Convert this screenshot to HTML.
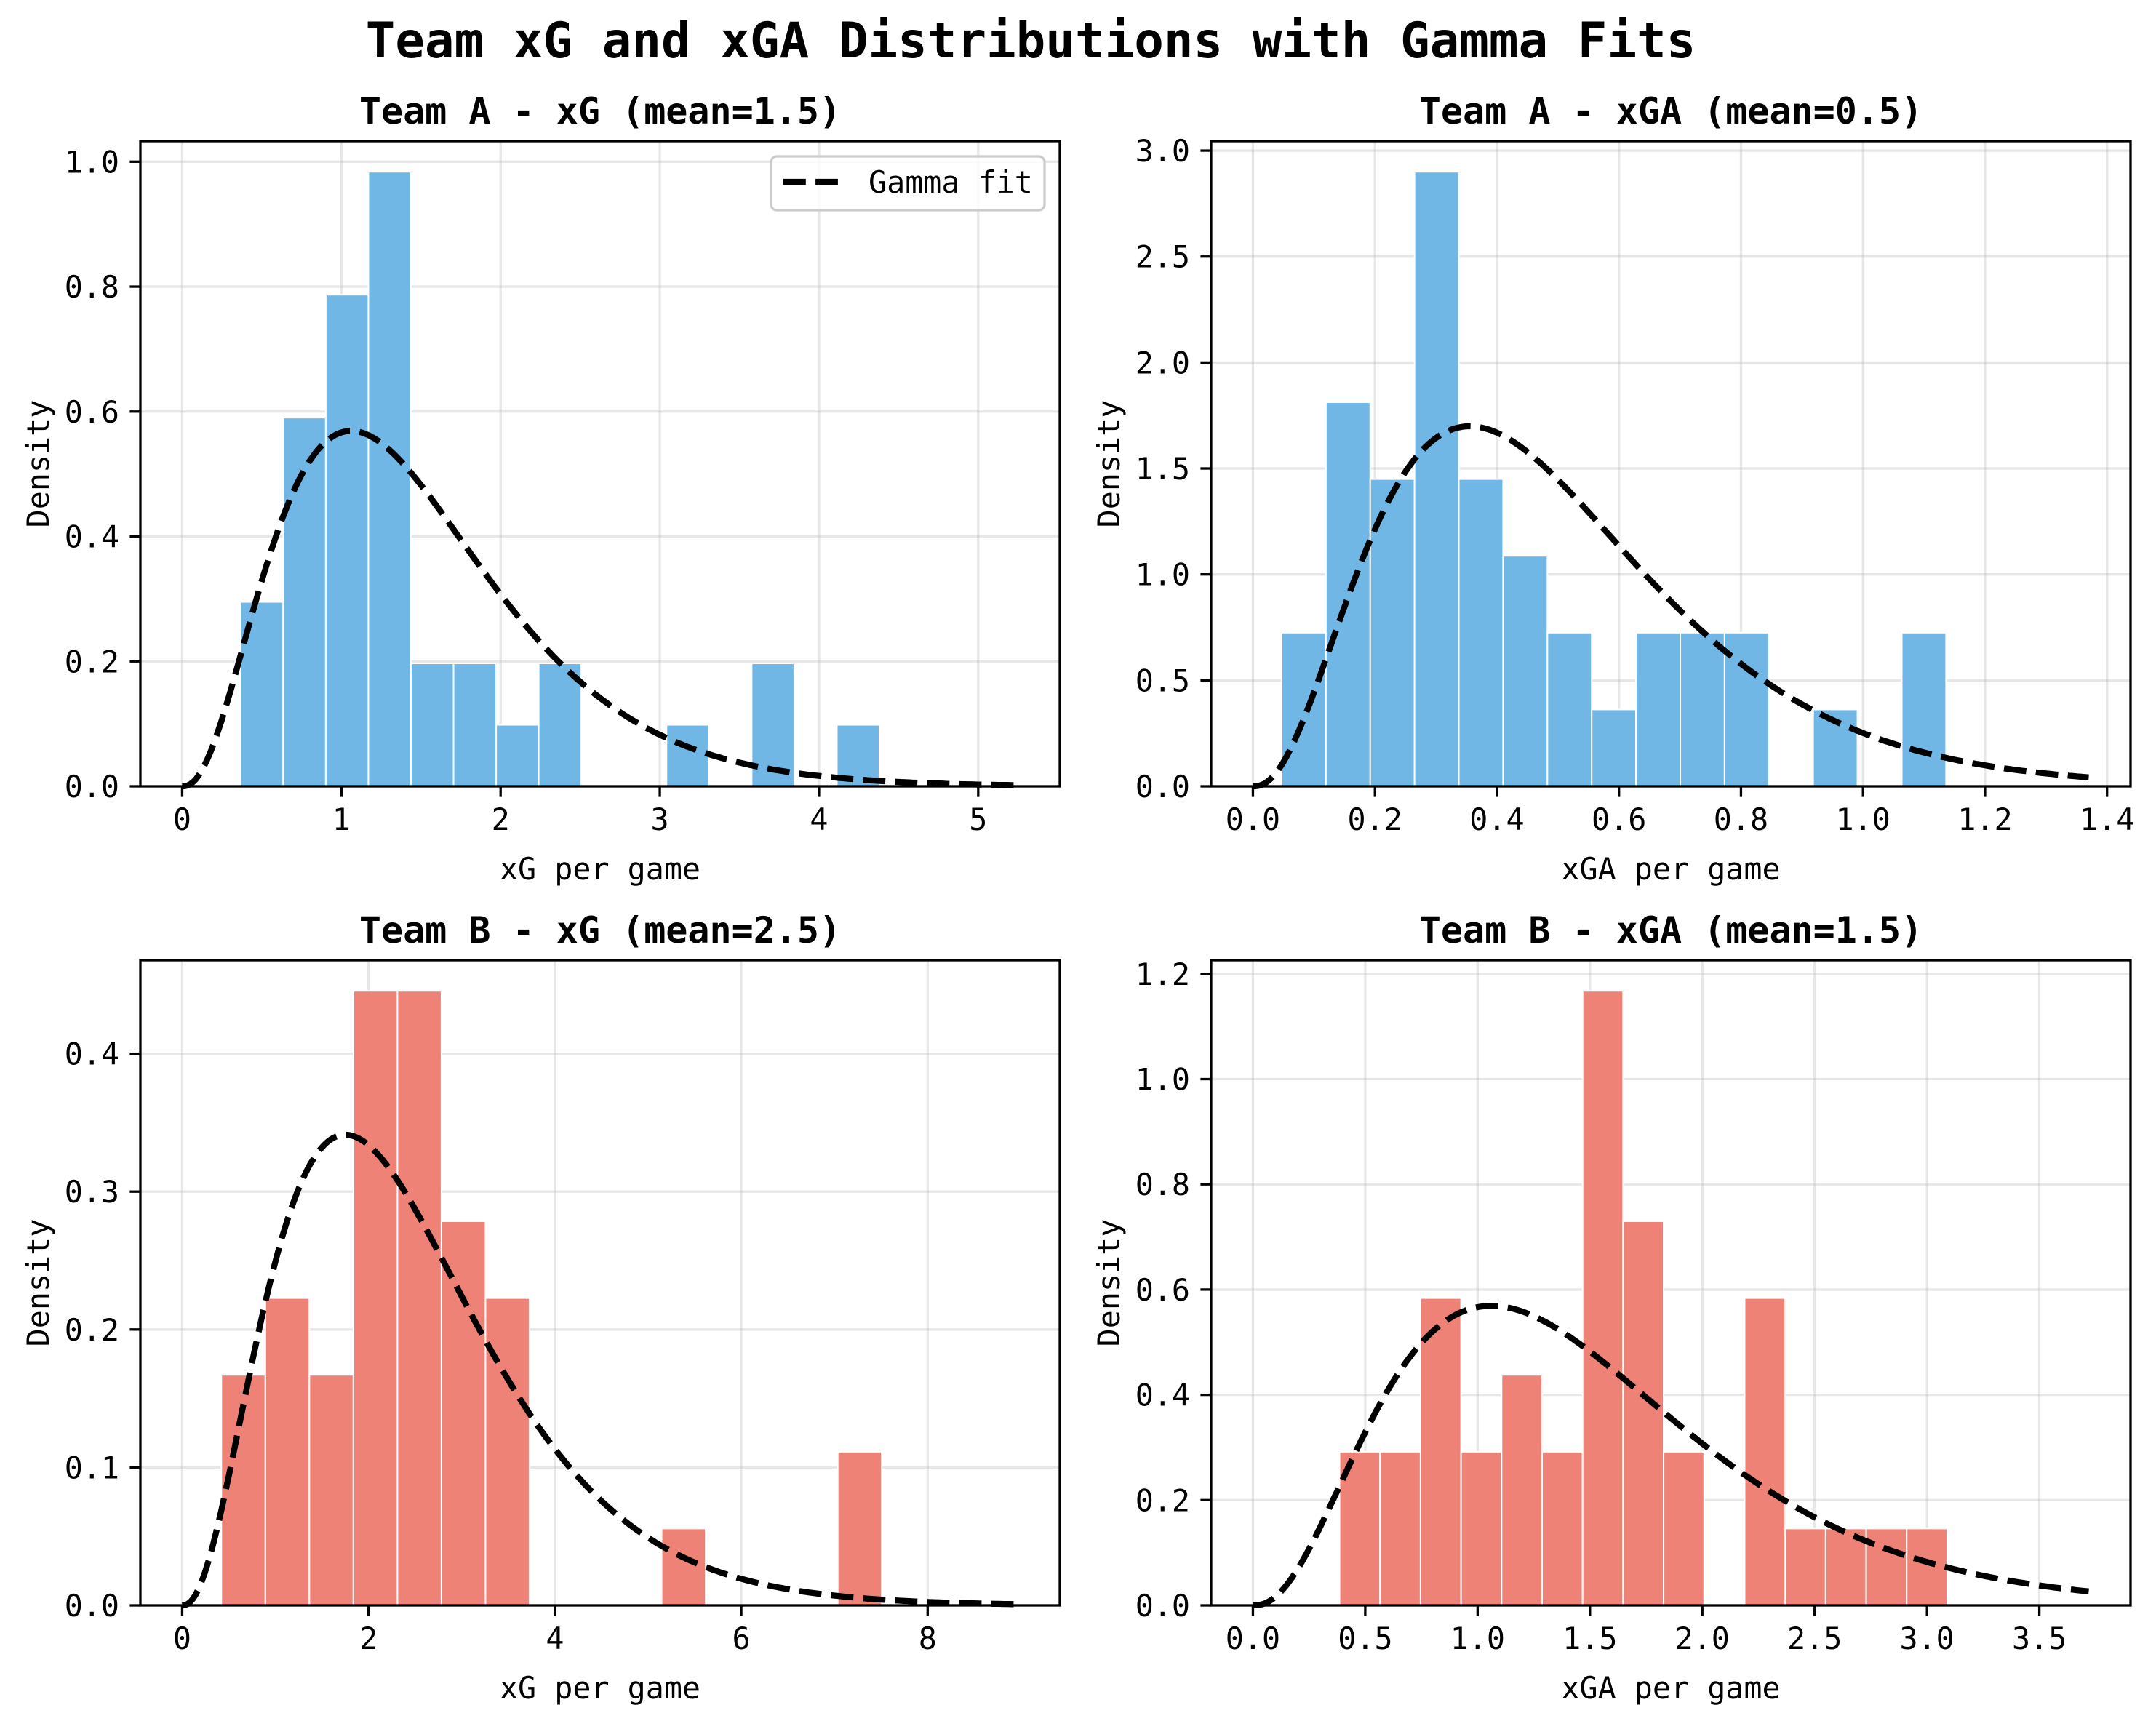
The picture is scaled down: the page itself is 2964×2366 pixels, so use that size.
<!DOCTYPE html>
<html><head><meta charset="utf-8"><style>
html,body{margin:0;padding:0;background:#fff}
svg{display:block}
text{font-family:"DejaVu Sans Mono","Liberation Mono",monospace;fill:#000}
</style></head><body>
<svg id="chart" width="2964" height="2366" viewBox="0 0 2964 2366" xmlns="http://www.w3.org/2000/svg">
<text x="1417" y="79" text-anchor="middle" font-size="67.5" font-weight="bold">Team xG and xGA Distributions with Gamma Fits</text>
</svg>
<script>
// Panel A: Team A xG
const binsA = [3,6,8,10,2,2,1,2,0,0,1,0,2,0,1];
const startA = 0.367, widthA = 0.2675;
const fitA = [3.45, 0.433]; const endA = 5.25;
const xticksA = [0,1,2,3,4,5]; const xtickLabelsA = ["0","1","2","3","4","5"];
const yticksA = [0,0.2,0.4,0.6,0.8,1.0]; const ytickLabelsA = ["0.0","0.2","0.4","0.6","0.8","1.0"];
// Panel B: Team A xGA
const binsB = [2,5,4,8,4,3,2,1,2,2,2,0,1,0,2];
const startB = 0.0471, widthB = 0.0726;
const fitB = [3.45, 0.145]; const endB = 1.37;
const xticksB = [0,0.2,0.4,0.6,0.8,1.0,1.2,1.4]; const xtickLabelsB = ["0.0","0.2","0.4","0.6","0.8","1.0","1.2","1.4"];
const yticksB = [0,0.5,1.0,1.5,2.0,2.5,3.0]; const ytickLabelsB = ["0.0","0.5","1.0","1.5","2.0","2.5","3.0"];
// Panel C: Team B xG
const binsC = [3,4,3,8,8,5,4,0,0,0,1,0,0,0,2];
const startC = 0.42, widthC = 0.4725;
const fitC = [3.4, 0.729]; const endC = 8.97;
const xticksC = [0,2,4,6,8]; const xtickLabelsC = ["0","2","4","6","8"];
const yticksC = [0,0.1,0.2,0.3,0.4]; const ytickLabelsC = ["0.0","0.1","0.2","0.3","0.4"];
// Panel D: Team B xGA
const binsD = [2,2,4,2,3,2,8,5,2,0,4,1,1,1,1];
const startD = 0.3855, widthD = 0.1803;
const fitD = [3.45, 0.433]; const endD = 3.72;
const xticksD = [0,0.5,1.0,1.5,2.0,2.5,3.0,3.5]; const xtickLabelsD = ["0.0","0.5","1.0","1.5","2.0","2.5","3.0","3.5"];
const yticksD = [0,0.2,0.4,0.6,0.8,1.0,1.2]; const ytickLabelsD = ["0.0","0.2","0.4","0.6","0.8","1.0","1.2"];

const NS = "http://www.w3.org/2000/svg";
const svg = document.getElementById('chart');
function mk(tag, attrs, parent){const e=document.createElementNS(NS,tag);for(const k in attrs)e.setAttribute(k,attrs[k]);(parent||svg).appendChild(e);return e;}
function lgamma(z){const g=7,c=[0.99999999999980993,676.5203681218851,-1259.1392167224028,771.32342877765313,-176.61502916214059,12.507343278686905,-0.13857109526572012,9.9843695780195716e-6,1.5056327351493116e-7];z-=1;let x=c[0];for(let i=1;i<g+2;i++)x+=c[i]/(z+i);const t=z+g+0.5;return 0.5*Math.log(2*Math.PI)+(z+0.5)*Math.log(t)-t+Math.log(x);}
function gpdf(x,k,th){if(x<=0)return 0;return Math.exp((k-1)*Math.log(x)-x/th-lgamma(k)-k*Math.log(th));}

function panel(o){
  const L=o.L,R=o.L+1264,T=o.T,B=o.T+887;
  const n=o.bins.reduce((a,b)=>a+b,0);
  const dens=o.bins.map(c=>c/(n*o.w));
  const xmax=o.end*1.05+0.0, xmin=-o.end*0.05;
  const ymax=Math.max(...dens)*1.05;
  const sx=v=>L+(v-xmin)/(xmax-xmin)*(R-L);
  const sy=v=>B-v/ymax*(B-T);
  const g=mk('g',{});
  
  
  o.xt.forEach(v=>{const l=mk('line',{x1:sx(v),x2:sx(v),y1:T,y2:B,stroke:'#b0b0b0','stroke-opacity':0.3,'stroke-width':3.3},g);});
  o.yt.forEach(v=>{const l=mk('line',{x1:L,x2:R,y1:sy(v),y2:sy(v),stroke:'#b0b0b0','stroke-opacity':0.3,'stroke-width':3.3},g);});
  dens.forEach((d,i)=>{if(d<=0)return;const x0=sx(o.start+i*o.w),x1=sx(o.start+(i+1)*o.w);
    const r=mk('rect',{x:x0,y:sy(d),width:x1-x0,height:B-sy(d),fill:o.color,stroke:'#fff','stroke-width':2},g);
    
    });
  let p='';for(let i=0;i<=300;i++){const x=o.end*i/300;p+=(i?'L':'M')+sx(x).toFixed(1)+','+sy(gpdf(x,o.fit[0],o.fit[1])).toFixed(1);}
  const c=mk('path',{d:p,fill:'none',stroke:'#000','stroke-width':8.3,'stroke-dasharray':'30.8,13.3'},g);
  
  
  const f=mk('rect',{x:L,y:T,width:R-L,height:B-T,fill:'none',stroke:'#000','stroke-width':3.3},g);
  
  
  o.xt.forEach((v,i)=>{mk('line',{x1:sx(v),x2:sx(v),y1:B,y2:B+14.6,stroke:'#000','stroke-width':3.3},g);
    const t=mk('text',{x:sx(v),y:B+60,'text-anchor':'middle','font-size':41.7},g);t.textContent=o.xl[i];
    
    });
  o.yt.forEach((v,i)=>{mk('line',{x1:L,x2:L-14.6,y1:sy(v),y2:sy(v),stroke:'#000','stroke-width':3.3},g);
    const t=mk('text',{x:L-29,y:sy(v)+15,'text-anchor':'end','font-size':41.7},g);t.textContent=o.yl[i];
    
    });
  const tt=mk('text',{x:(L+R)/2,y:T-24,'text-anchor':'middle','font-size':50,'font-weight':'bold'},g);tt.textContent=o.title;
  
  
  const xl=mk('text',{x:(L+R)/2,y:B+128,'text-anchor':'middle','font-size':41.7},g);xl.textContent=o.xlabel;
  
  
  const yl=mk('text',{x:0,y:0,'text-anchor':'middle','font-size':41.7,transform:`translate(${L-126},${(T+B)/2}) rotate(-90)`},g);yl.textContent='Density';
  
  
  if(o.legend){
    const lg=mk('g',{},g);
    
    
    mk('rect',{x:1060,y:215,width:376,height:74,rx:8,fill:'#fff','fill-opacity':0.8,stroke:'#cccccc','stroke-width':3.3},lg);
    mk('line',{x1:1077,x2:1153,y1:250,y2:250,stroke:'#000','stroke-width':8.3,'stroke-dasharray':'30.8,13.3'},lg);
    const lt=mk('text',{x:1194,y:265,'font-size':41.7},lg);lt.textContent='Gamma fit';
    
    
  }
}
panel({name:'panel-team-a-xg',L:193,T:194,bins:binsA,start:startA,w:widthA,fit:fitA,end:endA,xt:xticksA,xl:xtickLabelsA,yt:yticksA,yl:ytickLabelsA,color:'#71b7e6',title:'Team A - xG (mean=1.5)',xlabel:'xG per game',legend:true});
panel({name:'panel-team-a-xga',L:1665,T:194,bins:binsB,start:startB,w:widthB,fit:fitB,end:endB,xt:xticksB,xl:xtickLabelsB,yt:yticksB,yl:ytickLabelsB,color:'#71b7e6',title:'Team A - xGA (mean=0.5)',xlabel:'xGA per game'});
panel({name:'panel-team-b-xg',L:193,T:1320,bins:binsC,start:startC,w:widthC,fit:fitC,end:endC,xt:xticksC,xl:xtickLabelsC,yt:yticksC,yl:ytickLabelsC,color:'#ee8276',title:'Team B - xG (mean=2.5)',xlabel:'xG per game'});
panel({name:'panel-team-b-xga',L:1665,T:1320,bins:binsD,start:startD,w:widthD,fit:fitD,end:endD,xt:xticksD,xl:xtickLabelsD,yt:yticksD,yl:ytickLabelsD,color:'#ee8276',title:'Team B - xGA (mean=1.5)',xlabel:'xGA per game'});
</script>
</body></html>
